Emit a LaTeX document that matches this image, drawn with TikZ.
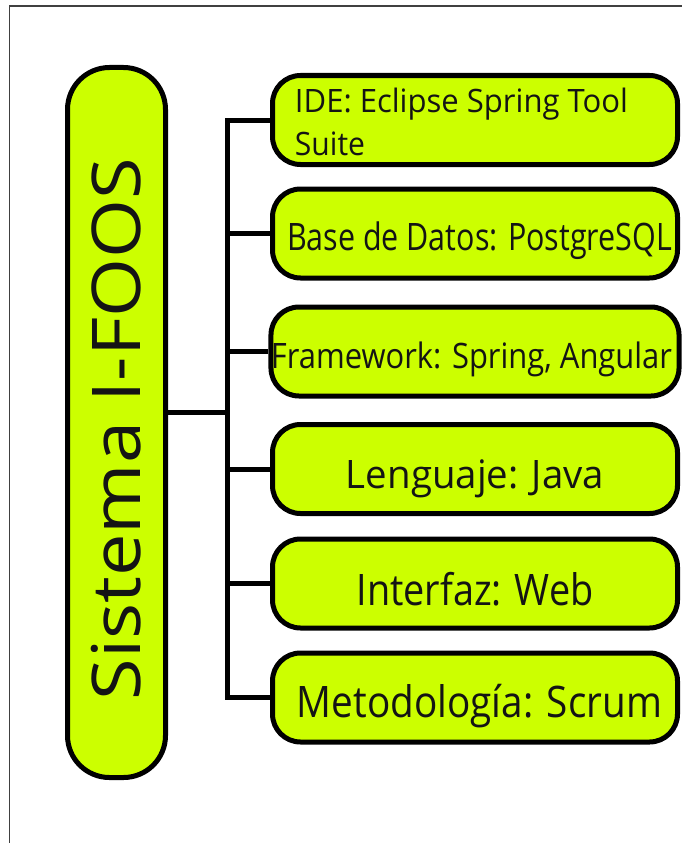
\documentclass[tikz,border=0pt]{standalone}
\usepackage{graphicx}
\usepackage{fontspec}
\setmainfont{Open Sans}
\definecolor{lime}{RGB}{204,255,0}
\definecolor{ink}{RGB}{20,20,20}
% text line scaled to a given width and cap height
\newcommand{\fitline}[3]{\resizebox{#1}{#2}{\smash{#3}\rule{0pt}{\fontcharht\font`H}}}
\begin{document}
\begin{tikzpicture}[x=1pt,y=-1pt,
  box/.style={draw=black, line width=5pt, fill=lime, rounded corners=28pt,
    minimum width=405pt, minimum height=89pt, inner sep=0pt, text=ink, anchor=center},
  mainbox/.style={draw=black, line width=5pt, fill=lime, rounded corners=42pt,
    minimum width=98pt, minimum height=710pt, inner sep=0pt, text=ink, anchor=center},
  conn/.style={draw=black, line width=5pt, line join=miter},
  frame/.style={draw=black!75, line width=1.5pt}]
\useasboundingbox (0,0) rectangle (681,843);
\draw[frame] (9.5,850) -- (9.5,6) -- (690,6);

\node[mainbox, text height=556pt, text depth=0pt] (main) at (116.5,422.5)
  {\rotatebox{90}{\fitline{542pt}{48pt}{Sistema I-FOOS}}};

\node[box, text height=70pt, text depth=0pt] (b1) at (475,120)
  {\vbox{\baselineskip=43pt\lineskiplimit=-100pt
    \hbox{\fitline{333pt}{23pt}{IDE: Eclipse Spring Tool}}
    \hbox{\fitline{70pt}{23pt}{Suite}}}\kern27pt};
\node[box, text height=33pt, text depth=0pt] (b2) at (475,233.5)
  {\kern9pt\fitline{385pt}{27pt}{Base de Datos: PostgreSQL}};
\node[box, text height=33pt, text depth=0pt] (b3) at (475,351.5)
  {\fitline{401pt}{25pt}{Framework: Spring, Angular}\kern7pt};
\node[box, text height=38pt, text depth=0pt] (b4) at (475,469)
  {\fitline{258pt}{28pt}{Lenguaje: Java}};
\node[box, text height=43pt, text depth=0pt] (b5) at (475,583.5)
  {\fitline{237pt}{31pt}{Interfaz: Web}};
\node[box, text height=39pt, text depth=0pt] (b6) at (475,697.5)
  {\kern9pt\fitline{365pt}{31pt}{Metodología: Scrum}};

\draw[conn] (b1.west) -- (b1.west -| 227,0) coordinate (t1) -- (t1 |- b6.west) coordinate (t6) -- (b6.west);
\draw[conn] (b2.west -| t1) -- (b2.west);
\draw[conn] (b3.west -| t1) -- (b3.west);
\draw[conn] (b4.west -| t1) -- (b4.west);
\draw[conn] (b5.west -| t1) -- (b5.west);
\draw[conn] (main.east |- 0,412) -- (t1 |- 0,412);
\end{tikzpicture}
\end{document}
